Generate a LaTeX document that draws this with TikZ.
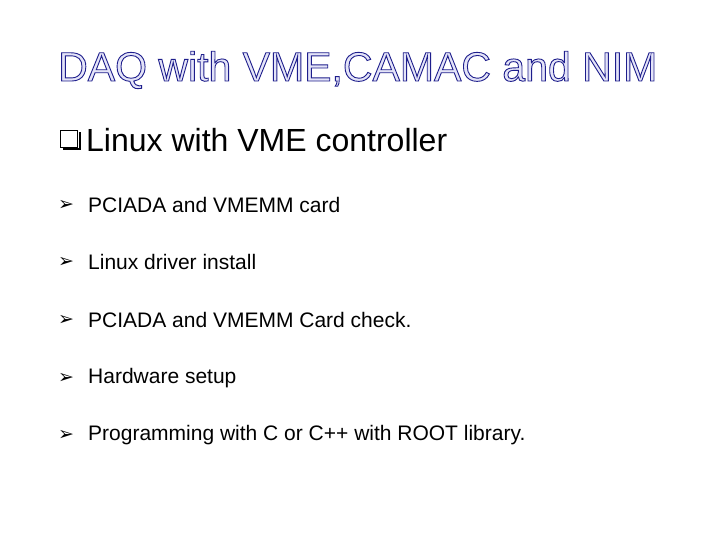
\documentclass[tikz,border=0pt]{standalone}
\usepackage{fontspec}
\setmainfont{Liberation Sans}
\newfontfamily\dejavu{DejaVu Sans}
\newcommand{\outlinetext}[1]{\special{pdf:literal direct 2 Tr 0.9 w 0.118 0.118 0.55 RG 0.894 0.894 0.973 rg}#1\special{pdf:literal direct 0 Tr 0 w}}
\begin{document}
\begin{tikzpicture}[x=1pt,y=-1pt,
  item/.style={anchor=west,inner sep=0pt,font=\fontsize{21}{24}\selectfont},
  bulletmark/.style={anchor=west,inner sep=0pt,font=\dejavu\fontsize{19}{21}\selectfont}]
\useasboundingbox[fill=white] (0,0) rectangle (720,540);
\node[anchor=west,inner sep=0pt,font=\fontsize{41}{45}\selectfont] (title) at (58,70) {\outlinetext{DAQ with VME,CAMAC and NIM}};
\node[anchor=west,inner sep=0pt] (box) at (60,140) {\tikz{\draw[line width=1.2pt] (0,0) rectangle (17,17); \draw[line width=2.5pt] (2,19) -- (19,19) -- (19,2);}};
\node[anchor=west,inner sep=0pt,font=\fontsize{32}{36}\selectfont] (sub) at (86,140) {Linux with VME controller};
\foreach \y/\t [count=\i] in {205/PCIADA and VMEMM card,262/Linux driver install,320/PCIADA and VMEMM Card check.,378/Hardware setup,435/Programming with C or C++ with ROOT library.}{
  \node[bulletmark] (m\i) at (58,\y) {➢};
  \node[item] (t\i) at (88,\y) {\t};
}
\end{tikzpicture}
\end{document}
